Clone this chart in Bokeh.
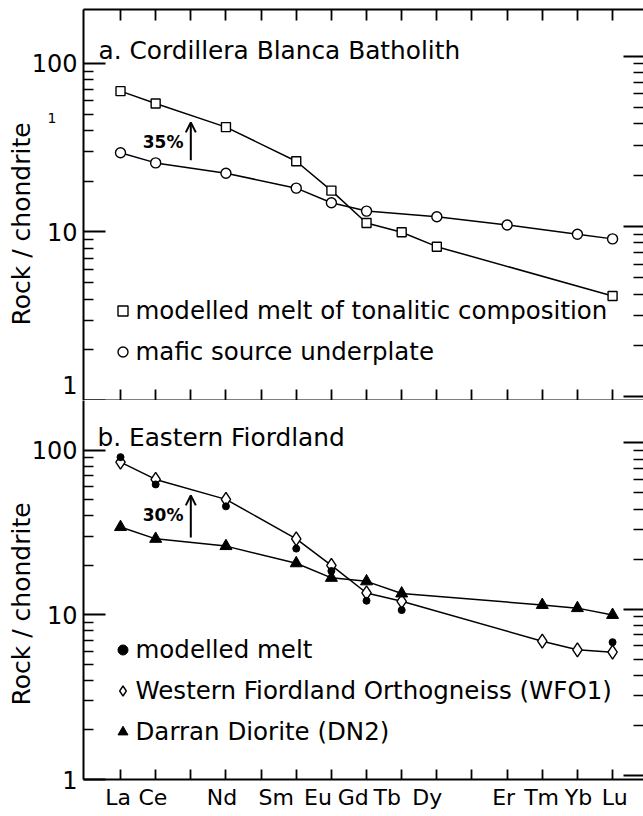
from bokeh.plotting import figure
from bokeh.layouts import column
from bokeh.models import (Range1d, LogScale, LogAxis, LinearAxis, FixedTicker, Legend,
                          LegendItem, Label, Arrow, OpenHead, Title)
from bokeh.embed import file_html
from bokeh.resources import INLINE

FONT = "DejaVu Sans"

# ---------------- data ----------------
REE = ["La", "Ce", "Pr", "Nd", "Pm", "Sm", "Eu", "Gd", "Tb", "Dy", "Ho", "Er", "Tm", "Yb", "Lu"]

# Panel a: Cordillera Blanca Batholith
a_melt_el = ["La", "Ce", "Nd", "Sm", "Eu", "Gd", "Tb", "Dy", "Lu"]
a_melt_val = [68.5, 57.9, 41.9, 26.3, 17.6, 11.3, 9.97, 8.18, 4.17]
a_src_el = ["La", "Ce", "Nd", "Sm", "Eu", "Gd", "Dy", "Er", "Yb", "Lu"]
a_src_val = [29.5, 25.7, 22.3, 18.2, 14.9, 13.3, 12.3, 11.0, 9.7, 9.1]

# Panel b: Eastern Fiordland
b_melt_el = ["La", "Ce", "Nd", "Sm", "Eu", "Gd", "Tb", "Lu"]
b_melt_val = [91.0, 62.1, 45.7, 25.3, 18.5, 12.2, 10.7, 6.83]
b_wfo_el = ["La", "Ce", "Nd", "Sm", "Eu", "Gd", "Tb", "Tm", "Yb", "Lu"]
b_wfo_val = [84.9, 66.6, 50.4, 29.0, 20.0, 13.6, 12.1, 6.93, 6.14, 5.94]
b_dn_el = ["La", "Ce", "Nd", "Sm", "Eu", "Gd", "Tb", "Tm", "Yb", "Lu"]
b_dn_val = [34.2, 29.0, 26.2, 20.6, 16.8, 16.0, 13.5, 11.5, 11.0, 10.0]

# x tick labels (bottom panel) and where they sit along the element axis
x_labels = ["La", "Ce", "Nd", "Sm", "Eu", "Gd", "Tb", "Dy", "Er", "Tm", "Yb", "Lu"]
x_label_pos = [-0.07, 0.92, 2.89, 4.43, 5.62, 6.62, 7.59, 8.73, 10.9, 11.98, 13.03, 14.06]

y_ticks = [1, 10, 100]
y_minor = [2, 3, 4, 5, 6, 7, 8, 9, 20, 30, 40, 50, 60, 70, 80, 90]
y_tick_labels = ["1", "10", "100"]
# where the y tick labels are written (panel a lifts its "1" off the bottom edge)
y_label_at_a = [1.24, 10, 100]
y_label_at_b = [1, 10, 100]
stray_a = [47.2, "1"]          # small stray "1" left of panel a's axis

# annotations: arrow (x, y_start, y_end) and percentage text
arrow_a = [2, 26.6, 44.7]
arrow_b = [2, 29.6, 53.3]
pct_a = [1.79, 34.1, "35%"]
pct_b = [1.79, 40.3, "30%"]


def idx(els):
    return [REE.index(e) for e in els]


def base_fig(height, yr, yr_right, b_top, b_bottom, label_at, ylab_offset, stray=None):
    p = figure(width=643, height=height, x_range=Range1d(-1.053, 14.88), y_range=Range1d(*yr),
               y_axis_type="log", x_axis_location=None, output_backend="svg",
               toolbar_location=None, min_border=0, min_border_left=83, min_border_right=0,
               min_border_top=b_top, min_border_bottom=b_bottom)
    p.outline_line_color = None
    p.grid.grid_line_color = None
    # tick marks + axis line (no labels)
    ya = p.yaxis[0]
    ya.ticker = FixedTicker(ticks=y_ticks, minor_ticks=y_minor)
    ya.major_label_overrides = {t: "" for t in y_ticks}
    ya.major_label_text_font_size = "0px"
    ya.major_label_standoff = 0
    ya.major_tick_in = 22
    ya.major_tick_out = 0
    ya.minor_tick_in = 10
    ya.minor_tick_out = 0
    ya.axis_line_width = 2
    ya.major_tick_line_width = 2
    ya.minor_tick_line_width = 1.6

    # tick labels
    la = LogAxis(ticker=FixedTicker(ticks=label_at, minor_ticks=[]),
                 major_label_overrides=dict(zip(label_at, y_tick_labels)),
                 major_tick_in=0, major_tick_out=0, axis_line_color=None,
                 major_label_text_font=FONT, major_label_text_font_size="24px",
                 major_label_text_color="black", major_label_standoff=6)
    p.add_layout(la, "left")
    if stray:
        sa = LogAxis(ticker=FixedTicker(ticks=[stray[0]], minor_ticks=[]),
                     major_label_overrides={stray[0]: stray[1]},
                     major_tick_in=0, major_tick_out=0, axis_line_color=None,
                     major_label_text_font=FONT, major_label_text_font_size="14px",
                     major_label_text_color="black", major_label_standoff=-28)
        p.add_layout(sa, "left")
    p.add_layout(Title(text="Rock / chondrite", align="left", offset=ylab_offset, standoff=-14,
                       text_font=FONT, text_font_size="25px", text_font_style="normal",
                       text_color="black"), "left")

    p.extra_y_ranges = {"r": Range1d(*yr_right)}
    p.extra_y_scales = {"r": LogScale()}
    rax = LogAxis(y_range_name="r", ticker=FixedTicker(ticks=y_ticks, minor_ticks=y_minor),
                  major_tick_in=20, major_tick_out=0, minor_tick_in=10, minor_tick_out=0,
                  axis_line_color=None, major_tick_line_width=2, minor_tick_line_width=1.6,
                  major_label_overrides={t: "" for t in y_ticks}, major_label_standoff=0,
                  major_label_text_font_size="0px")
    p.add_layout(rax, "right")
    return p


def tick_axis(label_pos=None, labels=None):
    ax = LinearAxis(ticker=FixedTicker(ticks=label_pos or [], minor_ticks=list(range(len(REE)))),
                    major_tick_in=0, major_tick_out=0, minor_tick_in=11, minor_tick_out=0,
                    axis_line_width=2, minor_tick_line_width=1.8, major_label_standoff=0)
    if labels:
        ax.major_label_overrides = dict(zip(label_pos, labels))
        ax.major_label_text_font = FONT
        ax.major_label_text_font_size = "22px"
        ax.major_label_text_color = "black"
        ax.major_label_standoff = 5
        ax.minor_tick_in = 10
    else:
        ax.major_label_text_font_size = "0px"
    return ax


def legend(items, loc):
    return Legend(items=items, location=loc, orientation="vertical", glyph_width=25,
                  glyph_height=25, label_standoff=1, spacing=12, padding=0, margin=0,
                  border_line_color=None, background_fill_alpha=0, label_text_font=FONT,
                  label_text_font_size="24.5px", label_height=25, label_text_color="black")


# ---------------- panel a ----------------
p1 = base_fig(400, (1, 209), (0.951, 188), 9, 0, y_label_at_a, 75, stray_a)
p1.add_layout(tick_axis(), "above")
p1.add_layout(tick_axis(), "below")

p1.line(idx(a_melt_el), a_melt_val, line_color="black", line_width=1.5)
p1.line(idx(a_src_el), a_src_val, line_color="black", line_width=1.5)
r_sq = p1.scatter(idx(a_melt_el), a_melt_val, marker="square", size=9, fill_color="white",
                  line_color="black", line_width=1.4)
r_ci = p1.scatter(idx(a_src_el), a_src_val, marker="circle", size=10, fill_color="white",
                  line_color="black", line_width=1.4)

p1.add_layout(legend([LegendItem(label="modelled melt of tonalitic composition", renderers=[r_sq]),
                      LegendItem(label="mafic source underplate", renderers=[r_ci])], (26.5, 34)))

p1.add_layout(Label(x=15, y=350, x_units="screen", y_units="screen",
                    text="a. Cordillera Blanca Batholith", text_font=FONT,
                    text_font_size="24.8px", text_baseline="alphabetic", text_color="black"))
p1.add_layout(Arrow(end=OpenHead(size=10, line_width=2, line_color="black"),
                    x_start=arrow_a[0], y_start=arrow_a[1], x_end=arrow_a[0], y_end=arrow_a[2],
                    line_width=2, line_color="black"))
p1.add_layout(Label(x=pct_a[0], y=pct_a[1], text=pct_a[2], text_font=FONT, text_font_size="17px",
                    text_font_style="bold", text_align="right", text_baseline="middle",
                    text_color="black"))

# ---------------- panel b ----------------
p2 = base_fig(416, (1, 201), (0.943, 180), 0, 37, y_label_at_b, 74)
p2.add_layout(tick_axis(x_label_pos, x_labels), "below")

p2.line(idx(b_wfo_el), b_wfo_val, line_color="black", line_width=1.5)
p2.line(idx(b_dn_el), b_dn_val, line_color="black", line_width=1.5)
r_di = p2.scatter(idx(b_wfo_el), b_wfo_val, marker="diamond", size=14, fill_color="white",
                  line_color="black", line_width=1.4)
r_tr = p2.scatter(idx(b_dn_el), b_dn_val, marker="triangle", size=12, fill_color="black",
                  line_color="black", line_width=1)
r_dot = p2.scatter(idx(b_melt_el), b_melt_val, marker="circle", size=7, fill_color="black",
                   line_color="black", line_width=1)

p2.add_layout(legend([LegendItem(label="modelled melt", renderers=[r_dot]),
                      LegendItem(label="Western Fiordland Orthogneiss (WFO1)", renderers=[r_di]),
                      LegendItem(label="Darran Diorite (DN2)", renderers=[r_tr])], (26.5, 33)))

p2.add_layout(Label(x=14, y=342, x_units="screen", y_units="screen",
                    text="b. Eastern Fiordland", text_font=FONT,
                    text_font_size="24.8px", text_baseline="alphabetic", text_color="black"))
p2.add_layout(Arrow(end=OpenHead(size=10, line_width=2, line_color="black"),
                    x_start=arrow_b[0], y_start=arrow_b[1], x_end=arrow_b[0], y_end=arrow_b[2],
                    line_width=2, line_color="black"))
p2.add_layout(Label(x=pct_b[0], y=pct_b[1], text=pct_b[2], text_font=FONT, text_font_size="17px",
                    text_font_style="bold", text_align="right", text_baseline="middle",
                    text_color="black"))

layout = column(p1, p2, spacing=0)
open("out.html", "w").write(file_html(layout, INLINE))
